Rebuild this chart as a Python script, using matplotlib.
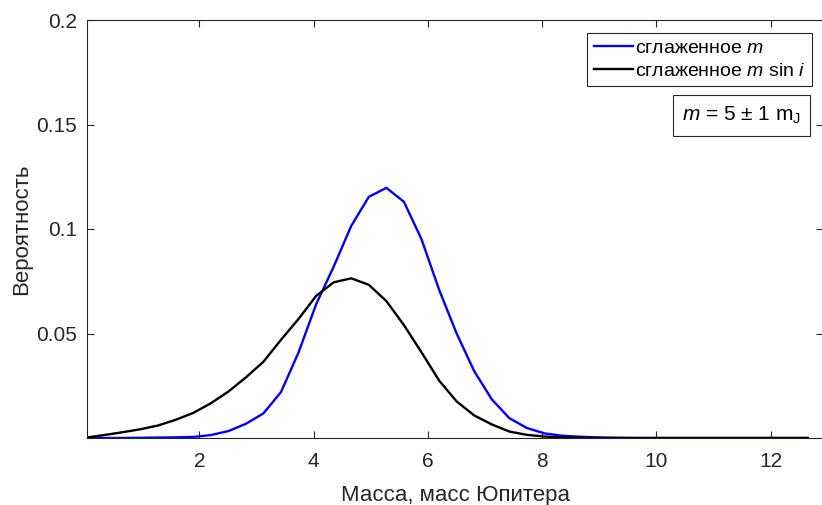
import numpy as np
import matplotlib.pyplot as plt

plt.rcParams['font.family'] = ['Liberation Sans', 'DejaVu Sans']
plt.rcParams['mathtext.fontset'] = 'custom'
plt.rcParams['mathtext.rm'] = 'Liberation Sans'
plt.rcParams['mathtext.it'] = 'Liberation Sans:italic'

# масса, масс Юпитера
masses = np.linspace(0.05, 12.65, 42)

# сглаженное m
prob_m = [0.0, 0.0, 0.0, 0.0001, 0.0002, 0.0003, 0.0005, 0.0014, 0.0033, 0.0068,
          0.0118, 0.022, 0.041, 0.064, 0.082, 0.1015, 0.1154, 0.1197, 0.1130, 0.0951,
          0.071, 0.050, 0.032, 0.0185, 0.0095, 0.0048, 0.0022, 0.0011, 0.0006, 0.0003,
          0.0001, 0, 0, 0, 0, 0, 0, 0, 0, 0, 0, 0]

# сглаженное m sin i
prob_msini = [0.0003, 0.0015, 0.0028, 0.0042, 0.006, 0.0087, 0.012, 0.0166, 0.0222, 0.029,
              0.0365, 0.047, 0.057, 0.068, 0.0745, 0.0764, 0.0733, 0.0655, 0.054, 0.041,
              0.0275, 0.0175, 0.0108, 0.0065, 0.0031, 0.0015, 0.0007, 0.0003, 0.0001, 0,
              0, 0, 0, 0, 0, 0, 0, 0, 0, 0, 0, 0]

xticks = [2, 4, 6, 8, 10, 12]
yticks = [0.05, 0.1, 0.15, 0.2]
ytick_labels = ['0.05', '0.1', '0.15', '0.2']

W, H = 822, 505
fig = plt.figure(figsize=(W / 100, H / 100), dpi=100)
ax = fig.add_axes([87 / W, (H - 438) / H, (823 - 87) / W, (438 - 20) / H])

gray = '#262626'
ax.plot(masses, prob_m, color='#0000ff', lw=1.7, label='сглаженное $\\mathit{m}$')
ax.plot(masses, prob_msini, color='black', lw=1.7, label='сглаженное $\\mathit{m}$ sin $\\mathit{i}$')

ax.set_xlim(0.035, 12.915)
ax.set_ylim(0, 0.2)
ax.set_xticks(xticks)
ax.set_yticks(yticks)
ax.set_yticklabels(ytick_labels)
ax.tick_params(direction='in', length=5, width=0.8, colors=gray, labelsize=15,
               top=True, right=True)
ax.tick_params(axis='x', pad=10)
ax.tick_params(axis='y', pad=7)
for s in ax.spines.values():
    s.set_color(gray)
    s.set_linewidth(0.8)

ax.set_xlabel('Масса, масс Юпитера', fontsize=16, color=gray, labelpad=10)
ax.set_ylabel('Вероятность', fontsize=16, color=gray, labelpad=3)

leg = ax.legend(loc='upper right', bbox_to_anchor=(812 / W, 1 - 32.7 / H),
                bbox_transform=fig.transFigure, borderaxespad=0, fontsize=14,
                handlelength=2.0, handletextpad=0.1, labelspacing=0.25,
                borderpad=0.35, fancybox=False, framealpha=1)
leg.get_frame().set_edgecolor(gray)
leg.get_frame().set_linewidth(0.8)

fig.text(741.5 / W, 1 - 115.5 / H, '$\\mathit{m}$ = 5 ± 1 m$_\\mathregular{J}$',
         ha='center', va='center', fontsize=15, color='black',
         bbox=dict(boxstyle='square,pad=0.45', fc='white', ec=gray, lw=0.8))

fig.savefig('out.png', dpi=100)
